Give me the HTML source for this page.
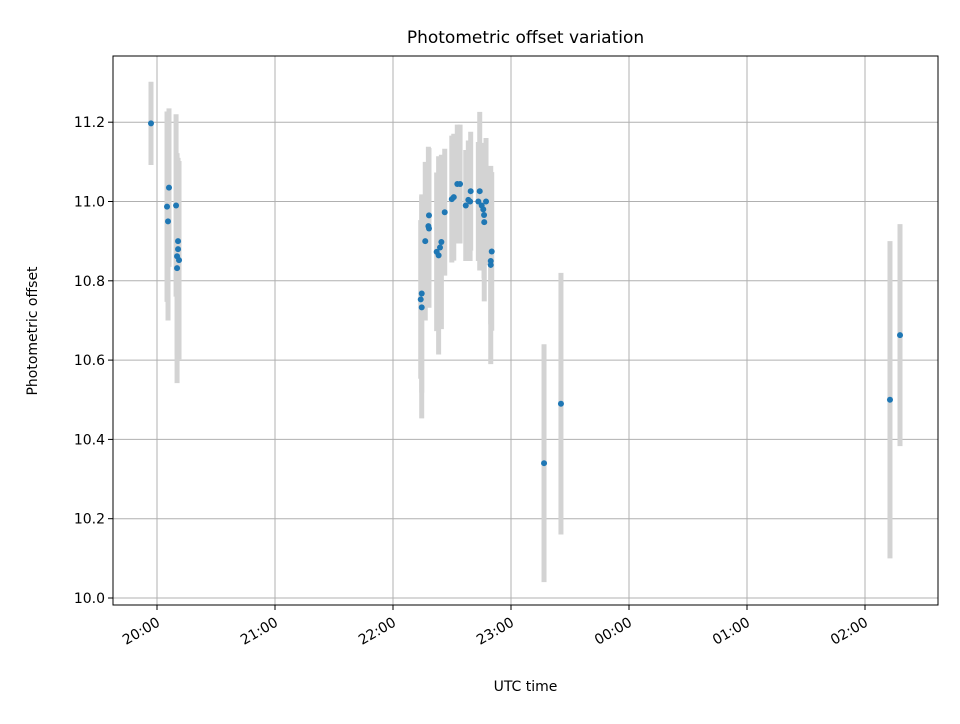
<!DOCTYPE html>
<html><head><meta charset="utf-8"><style>
body{margin:0;background:#fff;font-family:"DejaVu Sans","Liberation Sans",sans-serif}
svg text{font-family:"DejaVu Sans","Liberation Sans",sans-serif}
</style></head><body>
<svg id="chart" width="960" height="720" xmlns="http://www.w3.org/2000/svg"></svg>
<script>
const minutes=[-3.05,6.1,5.1,5.6,9.7,10.7,10.7,10.2,11.2,10.2,
134.6,134.1,134.6,138.3,138.0,138.3,136.4,144.6,143.9,142.2,143.2,146.3,149.9,150.9,152.7,154.1,157.0,158.3,159.2,159.5,164.1,163.4,165.1,165.9,167.3,166.3,166.4,170.2,169.7,169.7,
196.8,205.4,372.7,377.8];
const values=[11.197,11.035,10.987,10.95,10.99,10.90,10.88,10.862,10.852,10.832,
10.768,10.753,10.733,10.965,10.938,10.932,10.90,10.898,10.884,10.873,10.864,10.973,11.006,11.011,11.044,11.044,10.99,11.004,11.0,11.026,11.026,11.0,10.99,10.98,11.0,10.966,10.948,10.874,10.85,10.84,
10.34,10.49,10.5,10.663];
const errors=[0.105,0.2,0.24,0.25,0.23,0.2,0.23,0.25,0.25,0.29,
0.25,0.2,0.28,0.17,0.2,0.2,0.2,0.22,0.18,0.2,0.25,0.16,0.16,0.16,0.15,0.15,0.14,0.15,0.15,0.15,0.2,0.15,0.15,0.15,0.16,0.16,0.2,0.2,0.16,0.25,
0.3,0.33,0.4,0.28];
const xTicks=[0,60,120,180,240,300,360];
const xTickLabels=["20:00","21:00","22:00","23:00","00:00","01:00","02:00"];
const yTicks=[10.0,10.2,10.4,10.6,10.8,11.0,11.2];
const yTickLabels=["10.0","10.2","10.4","10.6","10.8","11.0","11.2"];

const L=113,R=938,T=56,B=605;
const sx=m=>157+m*118/60;
const sy=v=>598-(v-10)*396.5;
const svg=document.getElementById('chart');
const NS="http://www.w3.org/2000/svg";
function mk(tag,attrs,parent){const e=document.createElementNS(NS,tag);for(const k in attrs)e.setAttribute(k,attrs[k]);(parent||svg).appendChild(e);return e;}

const grid=mk('g',{});


xTicks.forEach((t,i)=>{
  const x=sx(t);
  mk('line',{x1:x,x2:x,y1:T,y2:B,stroke:'#b0b0b0','stroke-width':1},grid);
  mk('line',{x1:x,x2:x,y1:B,y2:B+5,stroke:'#000','stroke-width':1},grid);
  const ax=x+4, ay=B+20;
  const tx=mk('text',{x:ax,y:ay,'font-size':14,'text-anchor':'end',transform:`rotate(-30 ${ax} ${ay})`},grid);
  tx.textContent=xTickLabels[i];
  
  
});
yTicks.forEach((t,i)=>{
  const y=sy(t);
  mk('line',{x1:L,x2:R,y1:y,y2:y,stroke:'#b0b0b0','stroke-width':1},grid);
  mk('line',{x1:L-5,x2:L,y1:y,y2:y,stroke:'#000','stroke-width':1},grid);
  const tx=mk('text',{x:L-8,y:y+5,'font-size':14,'text-anchor':'end'},grid);
  tx.textContent=yTickLabels[i];
  
  
});
const eb=mk('g',{});


minutes.forEach((m,i)=>{
  const l=mk('line',{x1:sx(m),x2:sx(m),y1:sy(values[i]-errors[i]),y2:sy(values[i]+errors[i]),stroke:'#d3d3d3','stroke-width':5},eb);
  
  
});
const pts=mk('g',{});


minutes.forEach((m,i)=>{
  const c=mk('circle',{cx:sx(m),cy:sy(values[i]),r:3,fill:'#1f77b4'},pts);
  
  
});
const frame=mk('rect',{x:L,y:T,width:R-L,height:B-T,fill:'none',stroke:'#000','stroke-width':1});


const title=mk('text',{x:(L+R)/2,y:43,'font-size':17,'text-anchor':'middle'});
title.textContent='Photometric offset variation';


const xl=mk('text',{x:(L+R)/2,y:691,'font-size':14,'text-anchor':'middle'});
xl.textContent='UTC time';


const yl=mk('text',{x:37,y:331,'font-size':14,'text-anchor':'middle',transform:'rotate(-90 37 331)'});
yl.textContent='Photometric offset';


</script>
</body></html>
